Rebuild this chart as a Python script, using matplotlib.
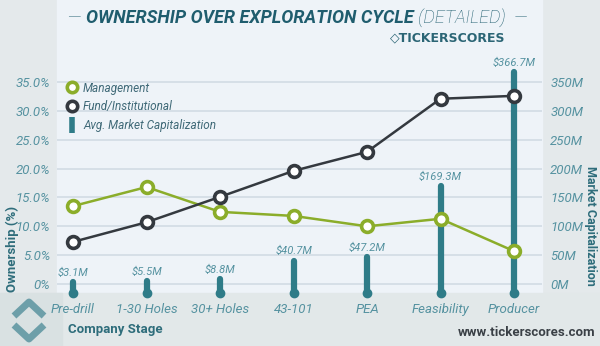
import numpy as np
import matplotlib
matplotlib.use("Agg")
import matplotlib.pyplot as plt
from matplotlib.lines import Line2D
from matplotlib.patches import Rectangle

# datos del gráfico
stages = ["Pre-drill", "1-30 Holes", "30+ Holes", "43-101", "PEA", "Feasibility", "Producer"]
management = [13.5, 16.8, 12.5, 11.8, 10.0, 11.3, 5.7]
fund = [7.3, 10.7, 15.1, 19.6, 22.9, 32.1, 32.6]
market_cap = [3.1, 5.5, 8.8, 40.7, 47.2, 169.3, 366.7]
pct_ticks = [0, 5, 10, 15, 20, 25, 30, 35]
cap_ticks = [0, 50, 100, 150, 200, 250, 300, 350]

green = "#8bad2a"
dark = "#34393f"
teal = "#2f7c88"
tick_col = "#5592a0"
title_col = "#1f5d6e"

plt.rcParams["font.family"] = ["Roboto", "DejaVu Sans"]

W, H = 600, 346
fig = plt.figure(figsize=(W / 100, H / 100), dpi=100, facecolor="#e4e9eb")

def fx(px):
    return px / W

def fy(py):
    return 1 - py / H

# fondos
fig.patches.append(Rectangle((fx(57), fy(293)), fx(542) - fx(57), 1 - fy(293) + 0.01,
                             transform=fig.transFigure, color="#eef3f8", zorder=-5))
fig.patches.append(Rectangle((0, 0), 1, fy(293), transform=fig.transFigure,
                             color="#e2e8e9", zorder=-5))
fig.patches.append(Rectangle((0, 0), fx(62), fy(293), transform=fig.transFigure,
                             color="#d9e1e2", zorder=-5))

# logo
logo = dict(color="#6d9fa9", lw=5, transform=fig.transFigure, solid_capstyle="butt", zorder=-4)
fig.lines.append(Line2D([fx(14), fx(29), fx(44)], [fy(316), fy(302), fy(316)], **logo))
fig.lines.append(Line2D([fx(14), fx(29), fx(44)], [fy(325), fy(339), fy(325)], **logo))

ax = fig.add_axes([fx(57), fy(300), fx(542) - fx(57), fy(55) - fy(300)])
ax2 = ax.twinx()
ax2.set_zorder(1)
ax.set_zorder(2)
ax.patch.set_visible(False)
ax2.patch.set_visible(False)

x = np.arange(len(stages))
ax.set_xlim(-0.218, 6.381)
ax.set_ylim(-2.77, 39.68)
ax2.set_ylim(-27.7, 396.8)

# barras de capitalización
ax2.set_yticks(cap_ticks)
ax2.yaxis.grid(True, color="#d6dfe7", lw=1.4)
ax2.set_axisbelow(True)
ax2.vlines(x, -15, market_cap, color=teal, lw=4.5, capstyle="round", zorder=3, clip_on=False)
ax2.scatter(x, [-15] * len(x), s=36, color=teal, zorder=3, clip_on=False)
for xi, v in zip(x, market_cap):
    ax2.annotate(f"${v}M", (xi, v), xytext=(0, 3), textcoords="offset points",
                 ha="center", va="bottom", fontsize=8, style="italic", color=tick_col)

# líneas de participación
mk = dict(marker="o", markersize=8.5, markerfacecolor="white", markeredgewidth=2.6, lw=1.8, zorder=5)
ax.plot(x, management, color=green, markeredgecolor=green, **mk)
ax.plot(x, fund, color=dark, markeredgecolor=dark, **mk)

ax.set_yticks(pct_ticks)
ax.set_yticklabels(["0%"] + [f"{t:.1f}%" for t in pct_ticks[1:]])
ax2.set_yticklabels([f"{t}M" for t in cap_ticks])
ax.set_xticks(x)
ax.set_xticklabels(stages)
for a in (ax, ax2):
    for s in a.spines.values():
        s.set_visible(False)
ax.tick_params(axis="y", length=0, pad=5, labelsize=9.5, labelcolor=tick_col)
ax2.tick_params(axis="y", length=0, pad=6, labelsize=9.5, labelcolor=tick_col)
ax.tick_params(axis="x", length=0, pad=2, labelsize=9.5, labelcolor=tick_col)
for lab in ax.get_yticklabels() + ax2.get_yticklabels() + ax.get_xticklabels():
    lab.set_style("italic")

# leyenda
handles = [
    Line2D([], [], color=green, marker="o", ls="", markersize=7.5, markerfacecolor="white", markeredgewidth=2.6),
    Line2D([], [], color=dark, marker="o", ls="", markersize=7.5, markerfacecolor="white", markeredgewidth=2.6),
    Line2D([], [], color=teal, marker="|", ls="", markersize=11, markeredgewidth=4),
]
leg = ax.legend(handles, ["Management", "Fund/Institutional", "Avg. Market Capitalization"],
                loc="upper left", bbox_to_anchor=(0.0, 0.935), frameon=False,
                handlelength=0.8, handletextpad=0.5, labelspacing=0.5,
                prop=dict(style="italic", size=8.5))
for t in leg.get_texts():
    t.set_color("#3f6977")

# títulos y etiquetas
t1 = fig.text(fx(68), fy(27), "— ", fontsize=13, color=title_col, fontweight="light", va="bottom")
t2 = ax.annotate("OWNERSHIP OVER EXPLORATION CYCLE", xy=(1, 0), xycoords=t1, va="bottom",
                 fontsize=13, color=title_col, fontweight="bold", style="italic")
ax.annotate(" (DETAILED)  —", xy=(1, 0), xycoords=t2, va="bottom",
            fontsize=13, color=title_col, fontweight="light", style="italic")
fig.text(fx(505), fy(38), "◇TICKERSCORES", ha="right", va="center", fontsize=9,
         fontweight="bold", color="#2b6575", family=["DejaVu Sans"])

fig.text(fx(12), fy(249), "Ownership (%)", rotation=90, ha="center", va="center",
         fontsize=9.5, fontweight="bold", color="#2e6d7b")
fig.text(fx(590), fy(226), "Market Capitalization", rotation=270, ha="center", va="center",
         fontsize=9, fontweight="bold", color="#2e6d7b")
fig.text(fx(68), fy(330), "Company Stage", ha="left", va="center",
         fontsize=9.5, fontweight="bold", color="#2e6d7b")
fig.text(fx(595), fy(333), "www.tickerscores.com", ha="right", va="center",
         fontsize=9.5, fontweight="bold", color="#3a4046")

fig.savefig("out.png", dpi=100, facecolor=fig.get_facecolor())
